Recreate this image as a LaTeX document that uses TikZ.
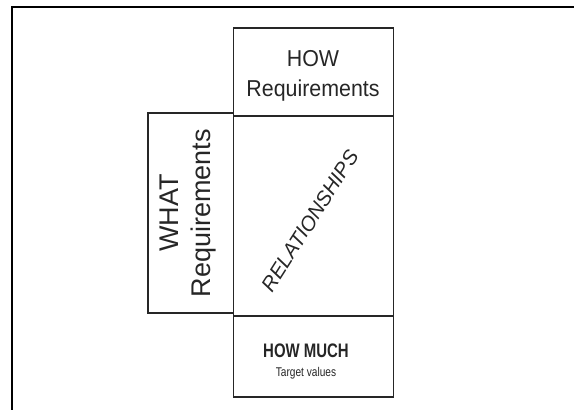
\documentclass[tikz,border=0pt]{standalone}
\usepackage{fontspec}
\setmainfont{Liberation Sans}
\usepackage{tikz}
\usetikzlibrary{positioning}
\tikzset{qfd/.style={x=1pt, y=-1pt, every node/.style={text=black!85}},
qbox/.style={draw=black!85, line width=1.1pt, inner sep=0pt, outer sep=0pt},
pageframe/.style={draw=black, line width=2pt},
bigtext/.style={font=\fontsize{23}{30}\selectfont, align=center, xscale=0.93, transform shape},
sidetext/.style={font=\fontsize{27}{32}\selectfont, align=center, rotate=90, transform shape},
slanttext/.style={font=\fontsize{20.5}{24}\selectfont\itshape, rotate=57.5, transform shape}}

\begin{document}
\begin{tikzpicture}[qfd]
	\useasboundingbox (0,0) rectangle (574,410);
	\draw[pageframe] (12,411) -- (12,7) -- (575,7);
					\node[qbox, minimum width=160pt, minimum height=88pt] (how) at (313.5,72) {};
					\node[qbox, minimum width=160pt, minimum height=200pt, below=0pt of how] (rel) {};
					\node[qbox, minimum width=160pt, minimum height=81pt, below=0pt of rel] (much) {};
					\node[qbox, minimum width=85.5pt, minimum height=200pt, anchor=north east] (what) at (233.5,113) {};
					% labels
					\node[bigtext] (howlabel) at (313,76) {HOW\\Requirements};
					\node[sidetext] (whatlabel) at (188,213) {WHAT\\Requirements};
					\node[slanttext] (rellabel) at (310,221) {RELATIONSHIPS};
					\node[font=\fontsize{17}{20}\selectfont\bfseries, xscale=0.88, yscale=1.15, transform shape] (muchlabel) at (306,351) {HOW MUCH};
					\node[font=\fontsize{11.5}{14}\selectfont, xscale=0.88, yscale=1.1, transform shape, below=1pt of muchlabel] (target) {Target values};
	\end{tikzpicture}
\end{document}
